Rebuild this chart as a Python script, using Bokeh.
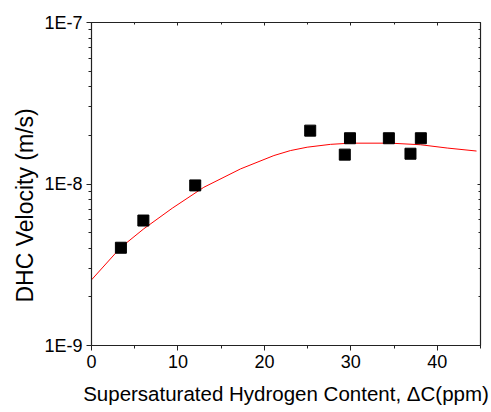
from bokeh.plotting import figure
from bokeh.models import Range1d, FixedTicker, CustomJSTickFormatter, LinearAxis, LogAxis, Title
from bokeh.embed import file_html
from bokeh.resources import INLINE

# measured data (squares)
dc_ppm = [3.4, 6.0, 12.0, 25.3, 29.3, 29.9, 34.4, 36.9, 38.1]
dhc_velocity = [4.03e-9, 5.94e-9, 9.8e-9, 2.14e-8, 1.52e-8, 1.92e-8, 1.92e-8, 1.54e-8, 1.92e-8]

# fitted curve (red line)
fit_x = [0.0, 3.35, 6.05, 9.34, 12.99, 17.24, 21.1, 23.0, 24.95, 27.65, 29.96, 34.6, 38.06, 41.15, 44.54]
fit_y = [2.55e-9, 4.03e-9, 5.28e-9, 7.08e-9, 9.54e-9, 1.24e-8, 1.50e-8, 1.61e-8, 1.69e-8,
         1.76e-8, 1.79e-8, 1.79e-8, 1.75e-8, 1.67e-8, 1.60e-8]

x_major = [0, 10, 20, 30, 40]
x_minor = [5, 15, 25, 35, 45]
y_major = [1e-9, 1e-8, 1e-7]
y_minor = [2e-9, 3e-9, 4e-9, 5e-9, 6e-9, 7e-9, 8e-9, 9e-9,
           2e-8, 3e-8, 4e-8, 5e-8, 6e-8, 7e-8, 8e-8, 9e-8]

x_title = "Supersaturated Hydrogen Content, \u0394C(ppm)"
y_title = "DHC Velocity (m/s)"

FONT = "Liberation Sans"
AX = "#222222"

p = figure(width=491, height=412, y_axis_type="log",
           x_range=Range1d(0, 45), y_range=Range1d(1e-9, 1e-7),
           output_backend="svg", toolbar_location=None,
           min_border_left=91, min_border_right=11, min_border_top=22, min_border_bottom=67)
p.background_fill_color = "white"
p.border_fill_color = "white"
p.outline_line_color = AX
p.grid.visible = False

xa = p.xaxis[0]
xa.ticker = FixedTicker(ticks=x_major, minor_ticks=x_minor)
xa.axis_label = x_title
ya = p.yaxis[0]
ya.ticker = FixedTicker(ticks=y_major, minor_ticks=y_minor)
ya.formatter = CustomJSTickFormatter(code="return '1E' + Math.round(Math.log10(tick));")

for ax in (xa, ya):
    ax.axis_line_color = AX
    ax.axis_line_width = 1.2
    ax.major_tick_line_color = AX
    ax.minor_tick_line_color = AX
    ax.major_tick_out = 5
    ax.major_tick_in = 0
    ax.minor_tick_out = 3
    ax.minor_tick_in = 0
    ax.major_label_text_font = FONT
    ax.major_label_text_font_size = "18px"
    ax.major_label_text_color = "black"
    ax.axis_label_text_font = FONT
    ax.axis_label_text_font_size = "20.5px"
    ax.axis_label_text_font_style = "normal"
    ax.axis_label_text_color = "black"

xa.major_label_standoff = 4
xa.axis_label_standoff = 11
ya.major_label_standoff = 4

ytitle = Title(text=y_title, align="left", offset=43, standoff=8,
               text_font=FONT, text_font_size="23px", text_font_style="normal",
               text_color="black")
p.add_layout(ytitle, "left")

blank = CustomJSTickFormatter(code="return '';")
top = LinearAxis(ticker=FixedTicker(ticks=x_major, minor_ticks=x_minor), formatter=blank)
right = LogAxis(ticker=FixedTicker(ticks=y_major, minor_ticks=y_minor), formatter=blank)
for ax in (top, right):
    ax.axis_line_color = AX
    ax.axis_line_width = 1.2
    ax.major_tick_line_color = AX
    ax.minor_tick_line_color = AX
    ax.major_tick_in = 3
    ax.major_tick_out = 0
    ax.minor_tick_in = 2
    ax.minor_tick_out = 0
    ax.major_label_standoff = 0
p.add_layout(top, "above")
p.add_layout(right, "right")

p.line(fit_x, fit_y, line_color="red", line_width=1)
p.scatter(dc_ppm, dhc_velocity, marker="square", size=11, fill_color="black", line_color="black")

open("out.html", "w").write(file_html(p, INLINE))
